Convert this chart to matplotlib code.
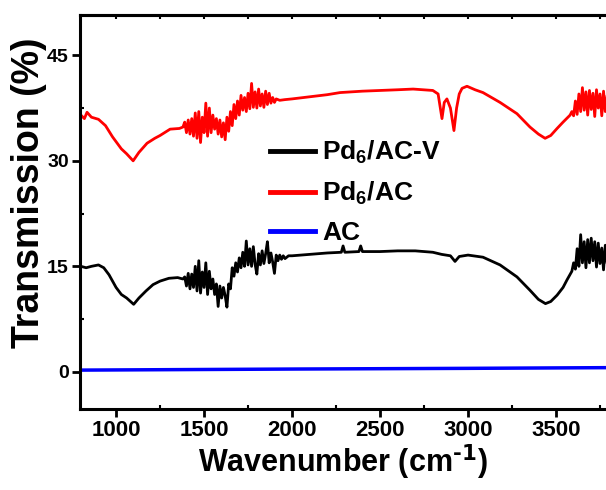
import matplotlib
matplotlib.use("Agg")
import matplotlib.pyplot as plt
from matplotlib.ticker import MultipleLocator

plt.rcParams['font.family'] = ['Liberation Sans', 'DejaVu Sans']
plt.rcParams['font.weight'] = 'bold'
plt.rcParams['mathtext.default'] = 'regular'

# Pd6/AC-V (black)
x_v = [800, 830, 860, 900, 930, 960, 1000, 1030, 1060, 1100, 1130, 1170, 1210, 1250, 1300, 1350, 1380,
	1390, 1400, 1410, 1420, 1430, 1440, 1450, 1460, 1470, 1480, 1490, 1500, 1510, 1520, 1530, 1540, 1550, 1560,
	1570, 1580, 1590, 1600, 1610, 1620, 1630, 1640, 1650, 1660, 1670, 1680, 1690, 1700, 1710, 1720, 1730, 1740,
	1750, 1760, 1770, 1780, 1790, 1800, 1810, 1820, 1830, 1840, 1850, 1860, 1870, 1880, 1890, 1900, 1910, 1920,
	1930, 1940, 1950, 1960, 1980,
	2000, 2100, 2200, 2280, 2290, 2300, 2380, 2390, 2400, 2500, 2600, 2700, 2800, 2850, 2900, 2926, 2950, 3000,
	3085, 3182, 3278, 3352, 3400, 3440, 3470, 3506, 3540, 3563, 3590,
	3600, 3610, 3620, 3630, 3640, 3650, 3660, 3670, 3680, 3690, 3700, 3710, 3720, 3730, 3740, 3750, 3760, 3770,
	3780, 3790]
y_v = [15.0, 14.8, 15.0, 15.2, 14.8, 13.8, 12.0, 11.0, 10.5, 9.6, 10.5, 11.5, 12.4, 12.9, 13.3, 13.4, 13.2,
	13.5, 12.2, 14.0, 11.8, 13.9, 12.0, 15.0, 11.5, 15.8, 11.2, 14.2, 12.0, 15.5, 11.0, 14.3, 11.8, 13.2, 11.0,
	12.5, 9.3, 12.2, 10.5, 12.0, 10.8, 9.2, 12.5, 11.8, 14.8, 13.6, 15.5, 14.2, 16.2, 14.8, 17.0, 15.0, 18.6,
	15.2, 17.5, 15.0, 17.8, 15.3, 13.9, 16.8, 15.2, 17.2, 15.4, 16.8, 18.5, 15.5, 16.9, 15.6, 14.0, 16.6, 15.8,
	16.6, 16.0, 16.5, 16.1, 16.5,
	16.5, 16.7, 16.9, 17.0, 17.9, 17.0, 17.1, 17.9, 17.1, 17.1, 17.2, 17.2, 17.0, 16.7, 16.5, 15.7, 16.4, 16.6,
	16.3, 15.2, 13.5, 11.6, 10.3, 9.7, 10.0, 10.9, 12.0, 13.1, 14.3,
	15.5, 14.6, 17.5, 15.0, 19.5, 15.5, 18.5, 14.8, 18.8, 15.5, 19.0, 15.8, 18.5, 14.9, 18.3, 15.4, 17.6, 14.5,
	18.0, 15.5]

# Pd6/AC (red)
x_p = [800, 820, 835, 860, 900, 940, 980, 1030, 1060, 1097, 1130, 1176, 1220, 1250, 1307, 1360, 1380,
	1390, 1400, 1410, 1420, 1430, 1440, 1450, 1460, 1470, 1480, 1490, 1500, 1510, 1520, 1530, 1540, 1550, 1560,
	1570, 1580, 1590, 1600, 1610, 1620, 1630, 1640, 1650, 1660, 1670, 1680, 1690, 1700, 1710, 1720, 1730, 1740,
	1750, 1760, 1770, 1780, 1790, 1800, 1810, 1820, 1830, 1840, 1850, 1860, 1870, 1880, 1890, 1900, 1910, 1930,
	1960,
	2000, 2100, 2200, 2273, 2400, 2500, 2600, 2688, 2800, 2830, 2852, 2865, 2880, 2900, 2920, 2935, 2950, 2966,
	2994, 3040, 3085, 3182, 3278, 3352, 3400, 3438, 3470, 3506, 3540, 3580,
	3590, 3600, 3610, 3620, 3630, 3640, 3650, 3660, 3670, 3680, 3690, 3700, 3710, 3720, 3730, 3740, 3750, 3760,
	3770, 3780, 3790]
y_p = [36.5, 36.0, 36.9, 36.2, 35.9, 35.0, 33.4, 31.7, 31.0, 30.0, 31.2, 32.5, 33.2, 33.6, 34.5, 34.6, 34.8,
	35.5, 34.0, 35.8, 33.8, 36.0, 33.5, 36.8, 33.2, 37.0, 32.6, 36.2, 34.0, 38.2, 33.5, 37.5, 34.0, 36.5, 34.5,
	36.0, 33.8, 35.8, 33.4, 35.4, 33.0, 36.2, 34.2, 37.0, 35.0, 38.0, 36.0, 38.5, 36.5, 39.3, 37.2, 39.0, 37.0,
	39.6, 37.4, 41.0, 37.6, 39.8, 37.5, 40.2, 37.8, 39.5, 37.6, 39.9, 38.0, 39.6, 38.2, 39.0, 38.3, 38.8, 38.6,
	38.7,
	38.8, 39.1, 39.4, 39.7, 39.9, 40.0, 40.1, 40.2, 40.0, 39.5, 36.0, 38.3, 38.8, 37.5, 34.3, 37.5, 39.5, 40.3,
	40.6, 40.1, 39.7, 38.3, 36.7, 34.8, 33.8, 33.2, 33.6, 34.6, 35.5, 36.5,
	37.0, 36.4, 38.5, 36.6, 39.5, 37.0, 40.4, 37.2, 39.8, 36.5, 40.0, 37.3, 39.6, 36.3, 40.1, 37.5, 39.5, 36.4,
	39.9, 37.0, 39.2]

# AC (blue)
x_ac = [800, 2000, 3000, 3800]
y_ac = [0.25, 0.4, 0.5, 0.6]

fig = plt.figure(figsize=(6.06, 4.9), dpi=100)
ax = fig.add_axes([0.132, 0.165, 0.868, 0.804])

ax.plot(x_v, y_v, color='k', lw=2, label=r'Pd$_6$/AC-V')
ax.plot(x_p, y_p, color='#ff0000', lw=2, label=r'Pd$_6$/AC')
ax.plot(x_ac, y_ac, color='#0000ff', lw=2.5, label='AC')

ax.set_xlim(795, 3784)
ax.set_ylim(-5.3, 50.7)
ax.xaxis.set_major_locator(MultipleLocator(500))
ax.xaxis.set_minor_locator(MultipleLocator(250))
ax.yaxis.set_major_locator(MultipleLocator(15))
ax.yaxis.set_minor_locator(MultipleLocator(7.5))

for s in ['left', 'bottom', 'top']:
	ax.spines[s].set_linewidth(2.2)
ax.spines['right'].set_visible(False)
ax.tick_params(which='major', direction='out', length=6, width=2, pad=2)
ax.tick_params(which='minor', direction='in', length=3, width=1.5)
ax.tick_params(axis='x', which='major', labelsize=16)
ax.tick_params(axis='y', which='major', labelsize=14)

# short inward ticks along the top edge
top = ax.secondary_xaxis('top')
top.xaxis.set_major_locator(MultipleLocator(250))
top.tick_params(direction='in', length=3, width=1.5, labeltop=False)
top.spines['top'].set_linewidth(2.2)

ax.set_xlabel('Wavenumber (cm$^{\\text{-1}}$)', fontsize=22, fontweight='bold', labelpad=1)
ax.set_ylabel('Transmission (%)', fontsize=27, fontweight='bold')
ax.yaxis.set_label_coords(-0.063, 0.55)

leg = ax.legend(loc='upper left', bbox_to_anchor=(270 / 606, 1 - 139 / 490), bbox_transform=fig.transFigure,
	frameon=False, fontsize=19, handlelength=1.7, handletextpad=0.27, labelspacing=0.52,
	borderaxespad=0, borderpad=0)
for line in leg.get_lines():
	line.set_linewidth(3.5)

fig.savefig('out.png', dpi=100)
